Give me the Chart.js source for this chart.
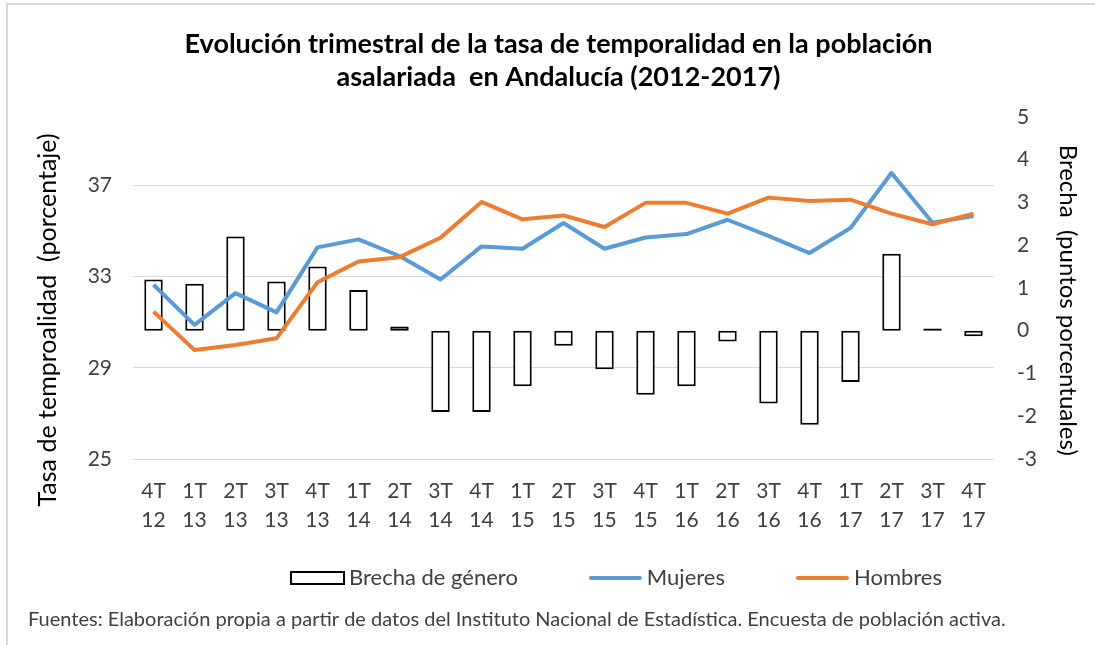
<!DOCTYPE html>
<html>
<head>
<meta charset="utf-8">
<script src="https://cdn.jsdelivr.net/npm/chart.js"></script>
<style>
    html, body { margin: 0; padding: 0; background: #fff; }
    #wrap { position: relative; width: 1095px; height: 645px; }
    #frame {
        position: absolute; left: 6px; top: 3px; right: -10px; bottom: -10px;
        border-top: 2px solid #d9d9d9; border-left: 2px solid #d9d9d9;
    }
    canvas { position: absolute; left: 0; top: 0; }
</style>
</head>
<body>
<div id="wrap">
    <div id="frame"></div>
    <canvas id="tempChart" width="1095" height="645"></canvas>
</div>
<script>
// --- Data ---
const quarters = [
    ['4T', '12'], ['1T', '13'], ['2T', '13'], ['3T', '13'], ['4T', '13'],
    ['1T', '14'], ['2T', '14'], ['3T', '14'], ['4T', '14'],
    ['1T', '15'], ['2T', '15'], ['3T', '15'], ['4T', '15'],
    ['1T', '16'], ['2T', '16'], ['3T', '16'], ['4T', '16'],
    ['1T', '17'], ['2T', '17'], ['3T', '17'], ['4T', '17']
];
const mujeres = [32.64, 30.88, 32.27, 31.43, 34.28, 34.63, 33.90, 32.87, 34.32, 34.22, 35.35,
                 34.22, 34.71, 34.86, 35.49, 34.78, 34.03, 35.13, 37.54, 35.36, 35.65];
const hombres = [31.46, 29.78, 30.00, 30.29, 32.75, 33.66, 33.85, 34.70, 36.27, 35.51, 35.68,
                 35.17, 36.23, 36.23, 35.76, 36.46, 36.31, 36.37, 35.76, 35.29, 35.76];
const brecha = [1.20, 1.10, 2.20, 1.15, 1.50, 0.95, 0.10, -1.90, -1.90, -1.30, -0.35,
                -0.90, -1.50, -1.30, -0.25, -1.70, -2.20, -1.20, 1.80, 0.05, -0.13];
const leftTicks = [25, 29, 33, 37];

const textColor = '#404040';
Chart.defaults.font.family = 'Lato';
Chart.defaults.color = textColor;

// the axis titles in the original sit a bit below the plot centre,
// padding the strings with spaces nudges them down
const pad = (n) => '\u00a0'.repeat(n);

// legend drawn by hand so the spacing follows the original
const legendPlugin = {
    id: 'excelLegend',
    afterDraw(chart) {
        const ctx = chart.ctx;
        const y = 578;
        const swatchW = 53;
        const textGap = 5;
        const itemGap = 71;
        let x = 291;
        ctx.save();
        ctx.font = '22px Lato';
        ctx.textBaseline = 'middle';
        chart.data.datasets.forEach(ds => {
            if (ds.type === 'bar') {
                ctx.fillStyle = '#fff';
                ctx.fillRect(x, y - 6, swatchW, 12);
                ctx.strokeStyle = '#000';
                ctx.lineWidth = 2;
                ctx.strokeRect(x, y - 6, swatchW, 12);
            } else {
                ctx.strokeStyle = ds.borderColor;
                ctx.lineWidth = 4;
                ctx.lineCap = 'round';
                ctx.beginPath();
                ctx.moveTo(x + 2, y);
                ctx.lineTo(x + swatchW - 2, y);
                ctx.stroke();
            }
            ctx.fillStyle = textColor;
            ctx.fillText(ds.label, x + swatchW + textGap, y);
            x += swatchW + textGap + ctx.measureText(ds.label).width + itemGap;
        });
        ctx.restore();
    }
};

const ctx = document.getElementById('tempChart').getContext('2d');
new Chart(ctx, {
    type: 'bar',
    data: {
        labels: quarters,
        datasets: [{
            type: 'bar',
            label: 'Brecha de género',
            data: brecha,
            yAxisID: 'y1',
            backgroundColor: '#ffffff',
            borderColor: '#000000',
            borderWidth: 2,
            borderSkipped: false,
            barPercentage: 0.45,
            categoryPercentage: 1,
            order: 3
        }, {
            type: 'line',
            label: 'Mujeres',
            data: mujeres,
            yAxisID: 'y',
            borderColor: '#5B9BD5',
            backgroundColor: '#5B9BD5',
            borderWidth: 4,
            borderJoinStyle: 'round',
            pointRadius: 0,
            tension: 0,
            order: 2
        }, {
            type: 'line',
            label: 'Hombres',
            data: hombres,
            yAxisID: 'y',
            borderColor: '#ED7D31',
            backgroundColor: '#ED7D31',
            borderWidth: 4,
            borderJoinStyle: 'round',
            pointRadius: 0,
            tension: 0,
            order: 1
        }]
    },
    options: {
        responsive: false,
        animation: false,
        devicePixelRatio: 1,
        layout: { padding: { left: 28, right: 6, top: 0, bottom: 0 } },
        plugins: {
            legend: { display: false },
            tooltip: { enabled: false },
            title: {
                display: true,
                text: ['Evolución trimestral de la tasa de temporalidad en la población',
                       'asalariada  en Andalucía (2012-2017)'],
                color: '#000',
                font: { size: 27, weight: 'bold', lineHeight: 1.22 },
                padding: { top: 28, bottom: 23 }
            },
            subtitle: {
                display: true,
                position: 'bottom',
                align: 'start',
                text: 'Fuentes: Elaboración propia a partir de datos del Instituto Nacional de Estadística. Encuesta de población activa.',
                color: textColor,
                font: { size: 20, lineHeight: 1.2 },
                padding: { top: 73, bottom: 13 }
            }
        },
        scales: {
            x: {
                grid: { display: false, drawTicks: false },
                border: { display: false },
                ticks: {
                    font: { size: 21, lineHeight: 1.38 },
                    padding: 18,
                    maxRotation: 0,
                    autoSkip: false
                },
                afterFit: (scale) => { scale.height = 76; }
            },
            y: {
                position: 'left',
                min: 25,
                max: 40,
                afterBuildTicks: (scale) => { scale.ticks = leftTicks.map(v => ({ value: v })); },
                grid: { color: '#d9d9d9', lineWidth: 1, drawTicks: false },
                border: { display: false },
                ticks: { font: { size: 21 }, padding: 21 },
                title: {
                    display: true,
                    text: 'Tasa de temproalidad  (porcentaje)' + pad(10),
                    color: '#000',
                    font: { size: 25 },
                    padding: { top: 5, bottom: 0 }
                },
                afterFit: (scale) => { scale.width = 105; }
            },
            y1: {
                position: 'right',
                min: -3,
                max: 5,
                ticks: { stepSize: 1, font: { size: 21 }, padding: 23 },
                grid: { display: false, drawTicks: false },
                border: { display: false },
                title: {
                    display: true,
                    text: pad(4) + 'Brecha  (puntos porcentuales)',
                    color: '#000',
                    font: { size: 24 },
                    padding: { top: 7, bottom: 0 }
                },
                afterFit: (scale) => { scale.width = 95; }
            }
        }
    },
    plugins: [legendPlugin]
});
</script>
</body>
</html>
